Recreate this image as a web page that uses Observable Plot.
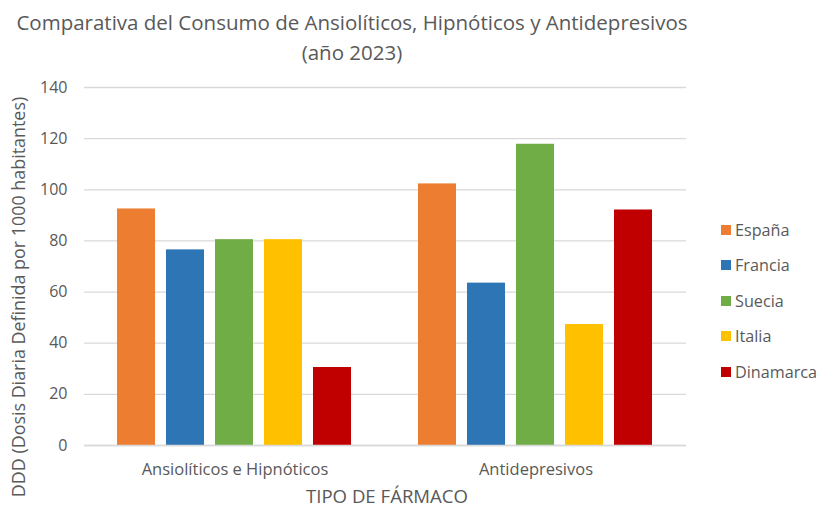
<!DOCTYPE html>
<html>
<head>
<meta charset="utf-8">
<script src="https://cdn.jsdelivr.net/npm/d3@7"></script>
<script src="https://cdn.jsdelivr.net/npm/@observablehq/plot@0.6"></script>
<style>
  html, body { margin: 0; padding: 0; background: #fff; }
  #wrap { position: relative; width: 818px; height: 509px; overflow: hidden;
          font-family: "Open Sans", Lato, sans-serif; color: #595959; }
  #title { position: absolute; left: 0; width: 704px; top: 7px; text-align: center;
           font-size: 20.5px; line-height: 30px; }
  #ylab { position: absolute; left: 19px; top: 297px; transform: translate(-50%, -50%) rotate(-90deg);
          white-space: nowrap; font-size: 17.9px; line-height: 1; }
  #xlab { position: absolute; left: 387px; top: 496px; transform: translate(-50%, -50%);
          white-space: nowrap; font-size: 18.6px; line-height: 1; }
  #legend { position: absolute; left: 721px; top: 212px; font-size: 16.2px; }
  #legend .item { height: 35.5px; display: flex; align-items: center; }
  #legend .sw { width: 10px; height: 10px; margin-right: 4px; }
</style>
</head>
<body>
<div id="wrap">
  <div id="title">Comparativa del Consumo de Ansiolíticos, Hipnóticos y Antidepresivos<br>(año 2023)</div>
  <div id="ylab">DDD (Dosis Diaria Definida por 1000 habitantes)</div>
  <div id="xlab">TIPO DE FÁRMACO</div>
  <div id="legend"></div>
</div>
<script>
const tipos = ["Ansiolíticos e Hipnóticos", "Antidepresivos"];
const paises = ["España", "Francia", "Suecia", "Italia", "Dinamarca"];
const colores = ["#ED7D31", "#2E75B6", "#70AD47", "#FFC000", "#C00000"];
const valoresAnsioliticos = [92.5, 76.5, 80.5, 80.5, 30.5];
const valoresAntidepresivos = [102.3, 63.5, 117.8, 47.3, 92.1];
const yTicks = [0, 20, 40, 60, 80, 100, 120, 140];

const data = [];
paises.forEach((p, i) => {
  data.push({tipo: tipos[0], pais: p, valor: valoresAnsioliticos[i]});
  data.push({tipo: tipos[1], pais: p, valor: valoresAntidepresivos[i]});
});

const font = getComputedStyle(document.getElementById("wrap")).fontFamily;

const chart = Plot.plot({
  width: 818,
  height: 509,
  marginTop: 87,
  marginBottom: 64,
  marginLeft: 84,
  marginRight: 132,
  style: {fontFamily: font, fontSize: "16px", color: "#595959", background: "transparent"},
  fx: {domain: tipos, padding: 0, label: null, axis: null},
  x: {domain: paises, paddingInner: 0.224, paddingOuter: 0.68, axis: null},
  y: {domain: [0, 140], ticks: yTicks, label: null},
  color: {domain: paises, range: colores},
  marks: [
    Plot.gridY(yTicks, {stroke: "#D9D9D9", strokeOpacity: 1, strokeWidth: 1.3}),
    Plot.axisY(yTicks, {tickSize: 0, tickPadding: 17, label: null, fill: "#595959"}),
    Plot.axisFx({anchor: "bottom", tickSize: 0, tickPadding: 18, label: null, fill: "#595959", fontSize: 16.5}),
    Plot.barY(data, {fx: "tipo", x: "pais", y: "valor", fill: "pais"}),
    Plot.ruleY([0], {stroke: "#D9D9D9", strokeWidth: 1.3})
  ]
});
chart.style.position = "absolute";
chart.style.left = "0px";
chart.style.top = "0px";
document.getElementById("wrap").insertBefore(chart, document.getElementById("title"));

const legend = document.getElementById("legend");
paises.forEach((p, i) => {
  const item = document.createElement("div");
  item.className = "item";
  const sw = document.createElement("div");
  sw.className = "sw";
  sw.style.background = colores[i];
  const lab = document.createElement("span");
  lab.textContent = p;
  item.appendChild(sw);
  item.appendChild(lab);
  legend.appendChild(item);
});
</script>
</body>
</html>
